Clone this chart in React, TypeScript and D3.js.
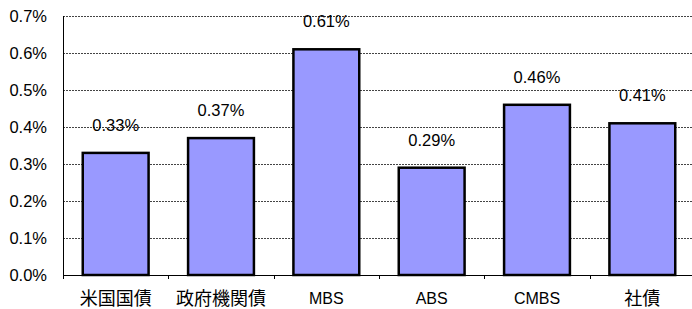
import * as d3 from 'd3';
import React, {useEffect, useRef} from 'react';

const categories = ['米国国債', '政府機関債', 'MBS', 'ABS', 'CMBS', '社債'];
const values = [0.33, 0.37, 0.61, 0.29, 0.46, 0.41];
const yTicks = [0, 0.1, 0.2, 0.3, 0.4, 0.5, 0.6, 0.7];

const W = 692;
const H = 309;
const font = '"Liberation Sans", Arial, "Noto Sans CJK JP", sans-serif';

export default function App() {
  const ref = useRef<SVGSVGElement>(null);

  useEffect(() => {
    const svg = d3.select(ref.current);
    svg.selectAll('*').remove();

    const left = 63, right = 695, top = 16, bottom = 275;

    const x = d3.scaleBand<string>()
      .domain(categories)
      .range([left, right])
      .paddingInner(0.375)
      .paddingOuter(0.1875);

    const y = d3.scaleLinear().domain([0, 0.7]).range([bottom, top]);

    // grid
    svg.append('g')
      .selectAll('line')
      .data(yTicks.filter(d => d > 0))
      .enter()
      .append('line')
      .attr('x1', left)
      .attr('x2', W)
      .attr('y1', d => Math.round(y(d)) + 0.5)
      .attr('y2', d => Math.round(y(d)) + 0.5)
      .attr('stroke', '#444')
      .attr('stroke-width', 1)
      .attr('stroke-dasharray', '2,1');

    // y tick labels
    svg.append('g')
      .selectAll('text')
      .data(yTicks)
      .enter()
      .append('text')
      .attr('x', 47)
      .attr('y', d => y(d))
      .attr('dy', '0.36em')
      .attr('text-anchor', 'end')
      .attr('font-family', font)
      .attr('font-size', 16.5)
      .attr('fill', '#000')
      .text(d => d.toFixed(1) + '%');

    // bars
    svg.append('g')
      .selectAll('rect')
      .data(values)
      .enter()
      .append('rect')
      .attr('x', (d, i) => x(categories[i])!)
      .attr('y', d => y(d))
      .attr('width', x.bandwidth())
      .attr('height', d => bottom - y(d))
      .attr('fill', '#9999FF')
      .attr('stroke', '#000')
      .attr('stroke-width', 2.5);

    // value labels
    svg.append('g')
      .selectAll('text')
      .data(values)
      .enter()
      .append('text')
      .attr('x', (d, i) => x(categories[i])! + x.bandwidth() / 2)
      .attr('y', d => y(d) - 28)
      .attr('dy', '0.36em')
      .attr('text-anchor', 'middle')
      .attr('font-family', font)
      .attr('font-size', 16.5)
      .attr('fill', '#000')
      .text(d => d.toFixed(2) + '%');

    // axes lines
    const axis = svg.append('g').attr('stroke', '#000').attr('stroke-width', 1);
    axis.append('line')
      .attr('x1', left + 0.5).attr('x2', left + 0.5)
      .attr('y1', top).attr('y2', bottom + 4);
    axis.append('line')
      .attr('x1', left).attr('x2', W)
      .attr('y1', bottom + 0.5).attr('y2', bottom + 0.5);

    const step = x.step();
    axis.selectAll('line.tick')
      .data(d3.range(1, categories.length))
      .enter()
      .append('line')
      .attr('class', 'tick')
      .attr('x1', i => Math.round(left + i * step) + 0.5)
      .attr('x2', i => Math.round(left + i * step) + 0.5)
      .attr('y1', bottom)
      .attr('y2', bottom + 4);

    // category labels
    const isLatin = (s: string) => /^[A-Za-z]+$/.test(s);
    svg.append('g')
      .selectAll('text')
      .data(categories)
      .enter()
      .append('text')
      .attr('x', d => x(d)! + x.bandwidth() / 2)
      .attr('y', 298.5)
      .attr('dy', '0.36em')
      .attr('text-anchor', 'middle')
      .attr('font-family', font)
      .attr('font-size', d => (isLatin(d) ? 16 : 18))
      .attr('fill', '#000')
      .text(d => d);
  }, []);

  return (
    <svg
      ref={ref}
      width={W}
      height={H}
      style={{position: 'absolute', left: 0, top: 0, background: '#fff'}}
    />
  );
}
